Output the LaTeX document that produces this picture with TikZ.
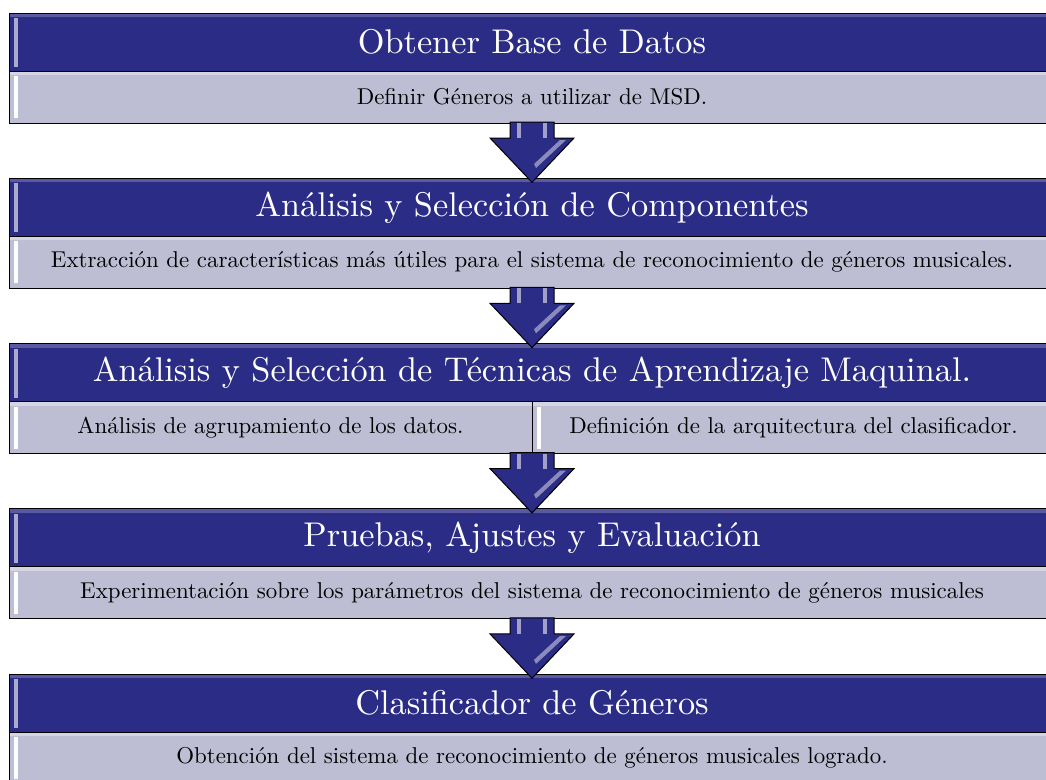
\documentclass[tikz,border=0pt]{standalone}
\usetikzlibrary{positioning,calc}
\definecolor{azulosc}{RGB}{43,44,134}
\definecolor{lavanda}{RGB}{189,190,211}
\newcommand{\cab}[1]{\scalebox{3.43}{#1}}
\newcommand{\detal}[1]{\scalebox{2.29}{#1}}
\newcommand{\flecha}[2]{%
	\draw[flecha] ($(#1)+(-22,-1)$) -- ($(#1)+(-22,15)$) -- ($(#1)+(-42,15)$) -- ($(#2)+(0,4)$)
		-- ($(#1)+(42,15)$) -- ($(#1)+(22,15)$) -- ($(#1)+(22,-1)$) -- cycle;
	\fill[azulosc!45!white] ($(#1)+(-15,0)$) rectangle ($(#1)+(-11,15)$);
	\fill[azulosc!45!white] ($(#1)+(11,0)$) rectangle ($(#1)+(15,15)$);
	\fill[azulosc!55!white] ($(#1)+(28,17)$) -- ($(#1)+(34,17)$) -- ($(#1)+(4,45)$) -- ($(#1)+(2,41)$) -- cycle;
}
\begin{document}
\begin{tikzpicture}[x=1pt,y=-1pt,
	barra/.style={draw=black,line width=1pt,minimum width=1046pt,inner sep=0pt,outer sep=0pt,font=\fontsize{10}{12}\selectfont},
	cabecera/.style={barra,fill=azulosc,text=white,minimum height=58pt,
		path picture={\fill[white,opacity=.22] (path picture bounding box.north west) rectangle ([yshift=-4pt]path picture bounding box.north east);
			\fill[azulosc!40!white] ([shift={(5pt,-5pt)}]path picture bounding box.north west) rectangle ([shift={(9pt,4pt)}]path picture bounding box.south west);}},
	detalle/.style={barra,fill=lavanda,minimum height=52pt,
		path picture={\fill[white,opacity=.35] (path picture bounding box.north west) rectangle ([yshift=-4pt]path picture bounding box.north east);
			\fill[white] ([shift={(5pt,-5pt)}]path picture bounding box.north west) rectangle ([shift={(9pt,5pt)}]path picture bounding box.south west);}},
	flecha/.style={draw=black,line width=1pt,fill=azulosc}]
	\useasboundingbox (0,0) rectangle (1046,779);
	% bloques
	\node[cabecera,anchor=north] (h1) at (532,13) {\cab{Obtener Base de Datos}};
	\node[detalle,below=0pt of h1] (s1) {\detal{Definir Géneros a utilizar de MSD.}};
	\node[cabecera,below=55.3pt of s1] (h2) {\cab{Análisis y Selección de Componentes}};
	\node[detalle,below=0pt of h2] (s2) {\detal{Extracción de características más útiles para el sistema de reconocimiento de géneros musicales.}};
	\node[cabecera,below=55.3pt of s2] (h3) {\cab{Análisis y Selección de Técnicas de Aprendizaje Maquinal.}};
	\node[detalle,minimum width=523pt,below right=0pt of h3.south west] (s3a) {\detal{Análisis de agrupamiento de los datos.}};
	\node[detalle,minimum width=523pt,right=0pt of s3a] (s3b) {\detal{Definición de la arquitectura del clasificador.}};
	\node[cabecera,below=55.3pt of s3a.south east] (h4) {\cab{Pruebas, Ajustes y Evaluación}};
	\node[detalle,below=0pt of h4] (s4) {\detal{Experimentación sobre los parámetros del sistema de reconocimiento de géneros musicales}};
	\node[cabecera,below=55.3pt of s4] (h5) {\cab{Clasificador de Géneros}};
	\node[detalle,below=0pt of h5] (s5) {\detal{Obtención del sistema de reconocimiento de géneros musicales logrado.}};
	% flechas
	\flecha{s1.south}{h2.north}
	\flecha{s2.south}{h3.north}
	\flecha{s3a.south east}{h4.north}
	\flecha{s4.south}{h5.north}
\end{tikzpicture}
\end{document}
